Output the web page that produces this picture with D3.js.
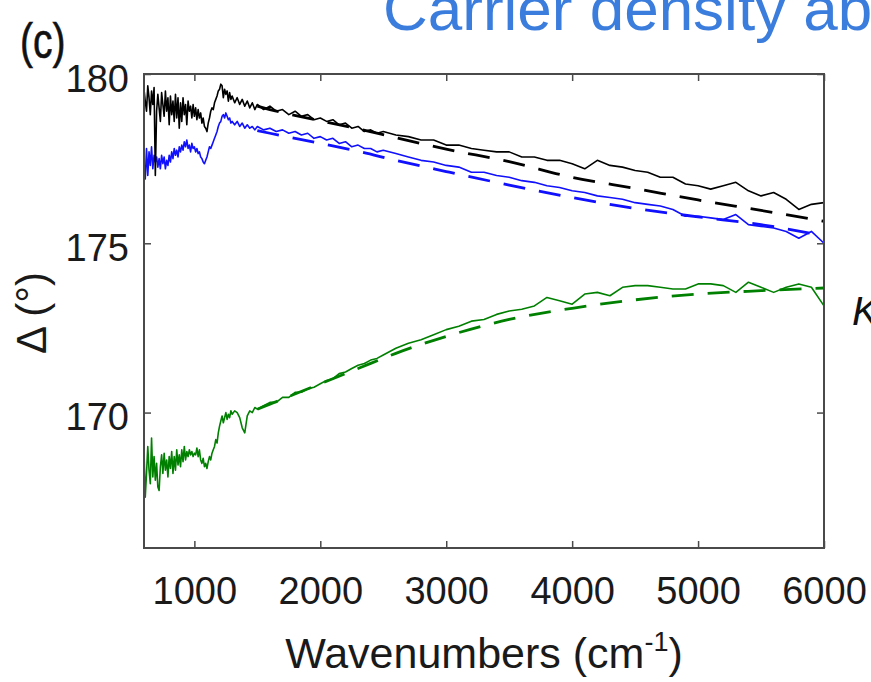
<!DOCTYPE html>
<html><head><meta charset="utf-8">
<script src="https://cdn.jsdelivr.net/npm/d3@7"></script>
<style>
body{margin:0;background:#fff}
svg{display:block}
text{font-family:"Liberation Sans",Arial,sans-serif}
</style>
</head><body>
<svg id="chart" width="871" height="682"></svg>
<script>
// ---- data ----
const wavenumbers = [
  600,610,620,630,640,650,660,670,680,690,700,710,720,730,740,750,760,770,780,790,
  800,810,820,830,840,850,860,870,880,890,900,910,920,930,940,950,960,970,980,990,
  1000,1010,1020,1030,1040,1050,1060,1070,1080,1090,1100,1110,1120,1130,1140,1150,1160,1170,1180,1190,
  1200,1210,1220,1230,1240,1250,1260,1270,1280,1290,1300,
  1320,1340,1360,1380,1400,1420,1440,1460,1480,1500,
  1550,1600,1650,1700,1750,1800,1850,1900,1950,2000,2050,2100,2150,2200,2250,2300,2350,2400,2450,2500,
  2600,2700,2800,2900,3000,3100,3200,3300,3400,3500,3600,3700,3800,3900,4000,4100,4200,4300,4400,4500,
  4600,4700,4800,4900,5000,5100,5200,5300,5400,5500,5600,5700,5800,5900,6000];

const blackMeasured = [
  179.55,179.2,178.9,179.65,179.3,178.8,179.5,179.1,179.6,177.0,178.9,179.4,179.0,178.6,179.45,179.1,178.75,179.5,178.9,179.3,
  178.5,179.35,178.8,179.2,178.6,179.4,178.7,179.3,178.4,179.15,178.6,179.3,178.8,179.1,178.5,179.2,178.9,179.05,178.7,179.1,
  178.75,179.0,178.65,178.95,178.7,178.85,178.55,178.7,178.45,178.4,178.3,178.55,178.7,178.9,179.0,178.95,179.15,179.25,179.35,179.5,
  179.55,179.7,179.65,179.3,179.55,179.4,179.5,179.2,179.45,179.25,179.35,
  179.15,179.3,179.1,179.25,179.05,179.2,179.0,179.15,178.95,179.1,
  178.95,179.05,178.9,178.95,178.8,178.9,178.75,178.8,178.65,178.7,178.6,178.65,178.5,178.55,178.4,178.45,178.3,178.35,178.25,178.3,
  178.2,178.15,178.05,178.05,177.9,177.9,177.8,177.75,177.7,177.7,177.55,177.55,177.45,177.45,177.35,177.2,177.45,177.3,177.25,177.15,
  177.1,176.95,176.95,176.75,176.7,176.6,176.7,176.8,176.55,176.4,176.5,176.3,176.0,176.15,176.2];

const blueMeasured = [
  177.4,176.9,177.8,177.0,177.7,177.3,177.85,177.2,177.6,177.4,177.55,177.25,177.5,177.2,177.6,177.35,177.55,177.2,177.45,177.3,
  177.6,177.4,177.7,177.5,177.8,177.6,177.75,177.55,177.85,177.7,177.9,177.75,178.0,177.85,178.05,177.8,177.9,177.7,177.95,177.8,
  177.85,177.7,177.8,177.65,177.7,177.55,177.5,177.4,177.35,177.45,177.55,177.7,177.85,177.8,177.9,178.0,178.1,178.2,178.3,178.45,
  178.55,178.6,178.75,178.8,178.7,178.85,178.75,178.65,178.7,178.55,178.6,
  178.5,178.6,178.45,178.55,178.4,178.5,178.4,178.45,178.35,178.45,
  178.35,178.4,178.3,178.35,178.25,178.3,178.2,178.25,178.1,178.15,178.05,178.1,177.95,178.0,177.85,177.9,177.8,177.8,177.7,177.75,
  177.65,177.55,177.45,177.4,177.3,177.25,177.1,177.1,177.0,176.95,176.85,176.8,176.7,176.65,176.55,176.5,176.4,176.35,176.3,176.2,
  176.15,176.1,176.0,175.8,175.8,175.75,175.7,175.85,175.55,175.5,175.45,175.35,175.15,175.35,175.0];

const greenMeasured = [
  168.9,167.5,168.2,169.0,168.3,167.9,169.25,168.1,168.7,168.0,168.5,167.8,167.7,168.4,168.75,168.2,168.8,168.3,168.6,168.1,
  168.7,168.35,168.85,168.2,168.7,168.3,168.9,168.45,168.75,168.4,168.9,168.55,169.0,168.6,168.85,168.7,168.9,168.75,168.85,168.7,
  168.8,168.75,168.95,168.7,168.9,168.6,168.5,168.65,168.4,168.5,168.35,168.55,168.7,168.6,168.8,168.9,169.0,169.2,169.1,169.4,
  169.6,169.75,169.9,169.7,169.85,170.0,169.8,169.95,169.85,170.05,169.95,
  170.05,170.0,169.85,169.55,169.4,169.9,170.05,170.0,170.15,170.1,
  170.2,170.3,170.3,170.45,170.45,170.6,170.6,170.7,170.75,170.85,170.95,171.0,171.15,171.2,171.3,171.4,171.45,171.55,171.6,171.7,
  171.9,172.05,172.15,172.3,172.45,172.55,172.7,172.75,172.9,173.0,173.05,173.15,173.4,173.3,173.2,173.5,173.55,173.45,173.7,173.75,
  173.75,173.7,173.65,173.65,173.8,173.8,173.75,173.55,173.85,173.7,173.55,173.7,173.8,173.7,173.15];

const fitWavenumbers = [1500,1600,2000,2300,2600,3000,3500,4000,4500,5000,5500,6000];
const blackFit = [179.05,178.95,178.62,178.38,178.12,177.78,177.41,176.95,176.62,176.28,175.97,175.65];
const blueFit  = [178.33,178.25,177.95,177.72,177.45,177.12,176.72,176.35,176.03,175.78,175.55,175.22];
const greenFit = [170.1,170.25,170.85,171.3,171.75,172.25,172.75,173.08,173.33,173.5,173.6,173.68];

const xTicks = [1000,2000,3000,4000,5000,6000];
const yTicks = [170,175,180];
const xDomain = [600,6000];
const yDomain = [166,180];

// ---- drawing ----
const svg = d3.select("#chart");
const L = 144, R = 824, T = 74, B = 548;
const x = d3.scaleLinear().domain(xDomain).range([L, R]);
const y = d3.scaleLinear().domain(yDomain).range([B, T]);

svg.append("defs").append("clipPath").attr("id","clip")
  .append("rect").attr("x",L).attr("y",T).attr("width",R-L).attr("height",B-T);

// Partial title (cut at top edge, as in the source figure)
svg.append("text").attr("x",383).attr("y",30).attr("font-size",62)
  .attr("fill","#3b7ddd").text("Carrier density above");

svg.append("text").attr("transform","translate(20,58) scale(0.78,1)").attr("font-size",50)
  .attr("fill","#111").attr("stroke","#111").attr("stroke-width",0.6).text("(c)");

svg.append("text").attr("x",852).attr("y",325).attr("font-size",40)
  .attr("font-style","italic").attr("fill","#111").text("K");

const g = svg.append("g").attr("clip-path","url(#clip)");
const line = d3.line().x(d=>x(d[0])).y(d=>y(d[1]));
const fitLine = d3.line().x(d=>x(d[0])).y(d=>y(d[1])).curve(d3.curveMonotoneX);

function series(vals){ return wavenumbers.map((w,i)=>[w, vals[i]]); }
function fit(vals){ return fitWavenumbers.map((w,i)=>[w, vals[i]]); }

const colors = {black:"#000000", blue:"#1010ff", green:"#008000"};

[[greenFit,colors.green],[blueFit,colors.blue],[blackFit,colors.black]].forEach(([v,c])=>{
  g.append("path").attr("d",fitLine(fit(v))).attr("fill","none")
    .attr("stroke",c).attr("stroke-width",2.8).attr("stroke-dasharray","22,14");
});
[[greenMeasured,colors.green],[blueMeasured,colors.blue],[blackMeasured,colors.black]].forEach(([v,c])=>{
  g.append("path").attr("d",line(series(v))).attr("fill","none")
    .attr("stroke",c).attr("stroke-width",1.6).attr("stroke-linejoin","round");
});

// Axes (ticks inward, on all four sides)
const axisColor = "#4a4a4a";
function styleAxis(sel){
  sel.select(".domain").remove();
  sel.selectAll(".tick line").attr("stroke",axisColor).attr("stroke-width",1.5);
  sel.selectAll(".tick text").attr("fill","#1a1a1a").attr("font-size",38)
     .attr("font-family","'Liberation Sans',Arial,sans-serif");
}
const xb = svg.append("g").attr("transform",`translate(0,${B})`)
  .call(d3.axisBottom(x).tickValues(xTicks).tickSizeInner(-7).tickSizeOuter(0).tickFormat(d3.format("d")));
styleAxis(xb);
xb.selectAll(".tick text").attr("dy","0.71em").attr("y",29);

const xt = svg.append("g").attr("transform",`translate(0,${T})`)
  .call(d3.axisTop(x).tickValues(xTicks).tickSizeInner(-7).tickSizeOuter(0).tickFormat(""));
styleAxis(xt);

const yl = svg.append("g").attr("transform",`translate(${L},0)`)
  .call(d3.axisLeft(y).tickValues(yTicks).tickSizeInner(-7).tickSizeOuter(0).tickFormat(d3.format("d")));
styleAxis(yl);
yl.selectAll(".tick text").attr("x",-15).attr("dy","0.45em");

const yr = svg.append("g").attr("transform",`translate(${R},0)`)
  .call(d3.axisRight(y).tickValues(yTicks).tickSizeInner(-7).tickSizeOuter(0).tickFormat(""));
styleAxis(yr);

svg.append("rect").attr("x",L).attr("y",T).attr("width",R-L).attr("height",B-T)
  .attr("fill","none").attr("stroke",axisColor).attr("stroke-width",2);

// Axis labels
const xl = svg.append("text").attr("x",(L+R)/2).attr("y",668).attr("text-anchor","middle")
  .attr("font-size",43).attr("fill","#1a1a1a");
xl.append("tspan").text("Wavenumbers (cm");
xl.append("tspan").attr("font-size",27).attr("dy",-17).text("-1");
xl.append("tspan").attr("dy",17).text(")");

svg.append("text").attr("transform","translate(46,313) rotate(-90)").attr("text-anchor","middle")
  .attr("font-size",42).attr("fill","#1a1a1a").text("Δ (°)");
</script>
</body></html>
